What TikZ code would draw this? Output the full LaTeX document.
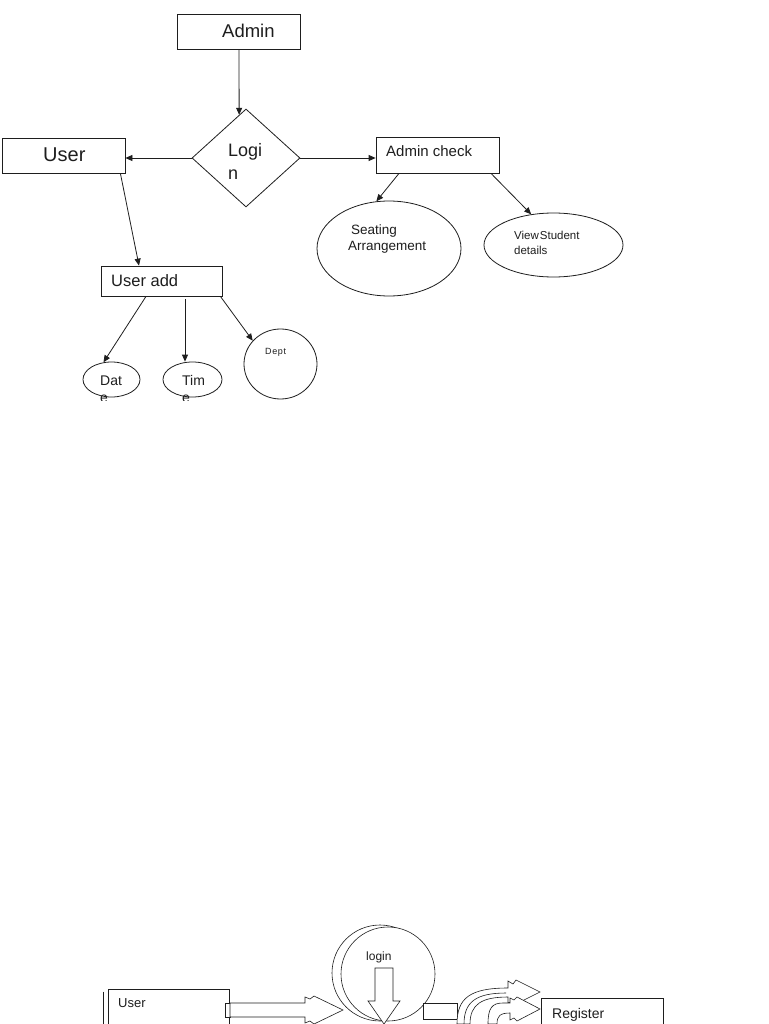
\documentclass[tikz,border=0pt]{standalone}
\usepackage{fontspec}
\setmainfont{Liberation Sans}
\usetikzlibrary{shapes.geometric,arrows.meta}
\tikzset{
  box/.style={draw=ink,rectangle,line width=0.8pt,inner sep=0pt},
  oval/.style={draw=ink,ellipse,line width=0.8pt,inner sep=0pt},
  conn/.style={draw=ink,line width=0.8pt,-{Triangle[length=7pt,width=6pt]}},
  blk/.style={draw=ink,fill=white,line width=0.6pt,line join=miter},
  txt/.style={inner sep=0pt,anchor=base west,align=left,text=ink},
}
\begin{document}
\begin{tikzpicture}[x=1pt,y=-1pt]
\definecolor{ink}{HTML}{1E1E1E}
\useasboundingbox (0,0) rectangle (768,1024);
\clip (0,0) rectangle (768,1024);
\fill[white] (0,0) rectangle (768,1024);

\node[box,minimum width=123pt,minimum height=35pt] (admin) at (239,31.5) {};
\node[box,minimum width=123pt,minimum height=35pt] (user) at (63.5,155.5) {};
\node[draw=ink,diamond,line width=0.8pt,inner sep=0pt,minimum width=108pt,minimum height=98pt] (login) at (246,158) {};
\node[box,minimum width=123pt,minimum height=36pt] (check) at (437.5,155) {};
\node[oval,minimum width=144pt,minimum height=95pt] (seat) at (389,248.5) {};
\node[oval,minimum width=139pt,minimum height=64pt] (view) at (553.5,245) {};
\node[box,minimum width=121pt,minimum height=30pt] (uadd) at (161.5,281) {};
\node[oval,minimum width=57pt,minimum height=35pt] (date) at (111.5,379.5) {};
\node[oval,minimum width=59pt,minimum height=35pt] (time) at (192.5,379.5) {};
\node[oval,minimum width=73pt,minimum height=70pt] (dept) at (280.5,364) {};

\node[txt,font=\fontsize{18.5pt}{22pt}\selectfont] (admin-t) at (222,38) {Admin};
\node[txt,font=\fontsize{20pt}{22pt}\selectfont] (user-t) at (43,162) {User};
\node[txt,font=\fontsize{18pt}{23pt}\selectfont] (login-t) at (228,180) {Logi\\n};
\node[txt,font=\fontsize{15pt}{18pt}\selectfont] (check-t) at (386,157) {Admin check};
\node[txt,font=\fontsize{13.5pt}{17pt}\selectfont] (seat-t) at (351,251) {Seating\\\hspace*{-3pt}Arrangement};
\node[txt,font=\fontsize{11.5pt}{14pt}\selectfont] (view-t) at (514,254) {View\hspace{1pt}Student\\details};
\node[txt,font=\fontsize{16.5pt}{20pt}\selectfont] (uadd-t) at (111,286) {User add};
\node[txt,font=\fontsize{9pt}{11pt}\selectfont] (dept-t) at (265,354) {D\kern0.6pt e\kern0.6pt p\kern0.6pt t};
\begin{scope}
\clip (70,360) rectangle (240,400);
\node[txt,font=\fontsize{14pt}{17pt}\selectfont] (date-t) at (100,402) {Dat\\e};
\node[txt,font=\fontsize{14pt}{17pt}\selectfont] (time-t) at (182,402) {Tim\\e};
\end{scope}

\draw[conn] (admin.south) -- (login.99);
\draw[conn] (login.west) -- (login.west -| user.east);
\draw[conn] (login.east) -- (login.east -| check.west);
\draw[conn] ([xshift=-38.5pt]check.south) -- (seat.105);
\draw[conn] ([xshift=53.5pt]check.south) -- (view.126);
\draw[conn] ([xshift=-5pt]user.south east) -- ([xshift=-22.5pt]uadd.north);
\draw[conn] ([xshift=-15.5pt]uadd.south) -- (date.115);
\draw[conn,shorten <=3pt] ([xshift=23.5pt]uadd.south) -- ([xshift=23.5pt]uadd.south |- time.north);
\draw[conn] ([xshift=-2pt]uadd.south east) -- (dept.140);

\node[box,line width=0.6pt,minimum width=121pt,minimum height=52pt] (buser) at (168.5,1015) {};
\draw[ink,line width=0.6pt] ([xshift=-4pt,yshift=-3pt]buser.north west) -- ++(0,40);
\node[txt,font=\fontsize{13pt}{15pt}\selectfont] (buser-t) at (118,1007) {User};
\draw[blk] (225,1003) rectangle (230,1017);
\draw[blk] (230,1003) -- (305,1003) -- (305,997) -- (310,999) -- (314,996) -- (343,1010)
  -- (314,1024) -- (310,1021) -- (305,1023) -- (305,1017) -- (230,1017) -- cycle;

\node[draw=ink,circle,line width=0.6pt,inner sep=0pt,minimum size=96pt] (lback) at (380,973) {};
\node[draw=ink,fill=white,circle,line width=0.6pt,inner sep=0pt,minimum size=94pt] (lfront) at (388,974) {};
\node[txt,font=\fontsize{12pt}{14pt}\selectfont] (login2-t) at (366,960) {login};
\draw[blk] (375,968) -- (393,968) -- (393,1001) -- (400,1001) -- (384,1024) -- (368,1001)
  -- (375,1001) -- cycle;

\draw[blk] (423,1003) rectangle (457,1019);
\draw[blk] (457,1024) .. controls (457,998) and (470,988) .. (508,988) -- (508,981) -- (513,984)
  -- (516,980) -- (540,992) -- (516,1004) -- (513,1001) -- (508,1003) -- (508,997)
  .. controls (482,997) and (470,1004) .. (470,1024) -- cycle;
\draw[ink,line width=0.6pt] (464,1024) .. controls (464,1002) and (476,993) .. (506,993);
\draw[blk] (488,1024) .. controls (488,1008) and (492,1003) .. (503,1003) -- (510,1003) -- (510,998)
  -- (514,1000) -- (517,997) -- (540,1009) -- (517,1021) -- (514,1018) -- (510,1020) -- (510,1013)
  .. controls (500,1013) and (497,1016) .. (497,1024) -- cycle;

\node[box,line width=0.6pt,minimum width=122pt,minimum height=44pt] (reg) at (602,1020) {};
\node[txt,font=\fontsize{14pt}{16pt}\selectfont] (reg-t) at (552,1018) {Register};
\end{tikzpicture}
\end{document}
